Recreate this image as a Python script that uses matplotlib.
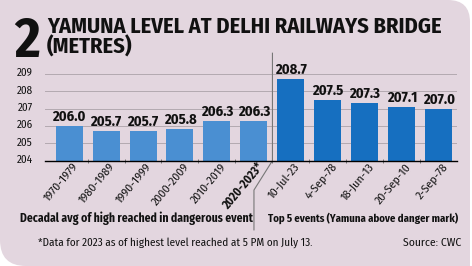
import matplotlib
matplotlib.use("Agg")
import matplotlib.pyplot as plt
import matplotlib.transforms as mtransforms
from matplotlib.path import Path
from matplotlib.patches import PathPatch
import numpy as np

# ---------------- data ----------------
decade_labels = ["1970-1979", "1980-1989", "1990-1999", "2000-2009", "2010-2019", "2020-2023*"]
decade_values = [206.0, 205.7, 205.7, 205.8, 206.3, 206.3]
event_labels = ["10-Jul-23", "4-Sep-78", "18-Jun-13", "20-Sep-10", "2-Sep-78"]
event_values = [208.7, 207.5, 207.3, 207.1, 207.0]
y_ticks = [204, 205, 206, 207, 208, 209]

title_num = "2"
title_line1 = "YAMUNA LEVEL AT DELHI RAILWAYS BRIDGE"
title_line2 = "(METRES)"
left_caption = "Decadal avg of high reached in dangerous event"
right_caption = "Top 5 events (Yamuna above danger mark)"
footnote = "*Data for 2023 as of highest level reached at 5 PM on July 13."
source = "Source: CWC"

# ---------------- style ----------------
BG = "#e3d6df"
C_LEFT = "#4a8fd2"
C_RIGHT = "#166fc0"
GRID = "#b3a9b0"
FONT = ["Fira Sans Condensed", "DejaVu Sans"]

W, H = 472, 266
fig = plt.figure(figsize=(W / 100, H / 100), dpi=100)
fig.patch.set_facecolor("white")
renderer = fig.canvas.get_renderer()


def fit(t, target_w):
    """scale the font size of text t so its rendered width is target_w px"""
    w = t.get_window_extent(renderer).width
    t.set_fontsize(t.get_fontsize() * target_w / w)


# background panel with rounded top-right and bottom-left corners
bg_ax = fig.add_axes([0, 0, 1, 1])
bg_ax.set_xlim(0, W)
bg_ax.set_ylim(H, 0)
bg_ax.axis("off")
r1, r2 = 22, 26
x1, y1 = 470, 266
verts = [(0, 0), (x1 - r1, 0), (x1, 0), (x1, r1), (x1, y1), (r2, y1), (0, y1), (0, y1 - r2), (0, 0)]
codes = [Path.MOVETO, Path.LINETO, Path.CURVE3, Path.CURVE3, Path.LINETO, Path.LINETO,
         Path.CURVE3, Path.CURVE3, Path.CLOSEPOLY]
bg_ax.add_patch(PathPatch(Path(verts, codes), facecolor=BG, edgecolor="none"))

# main axes
ax_left, ax_right = 45, 457
ax_top, ax_bot = 74, 160.6
ax = fig.add_axes([ax_left / W, 1 - ax_bot / H, (ax_right - ax_left) / W, (ax_bot - ax_top) / H])
ax.set_facecolor("none")

labels = decade_labels + event_labels
values = decade_values + event_values
x = np.arange(len(labels))
colors = [C_LEFT] * len(decade_labels) + [C_RIGHT] * len(event_labels)
ax.bar(x, [v - y_ticks[0] for v in values], bottom=y_ticks[0], width=0.73,
       color=colors, zorder=3)

ax.set_ylim(y_ticks[0], y_ticks[-1])
ax.set_xlim(-0.65, len(labels) - 0.51)
ax.set_yticks(y_ticks)
ax.set_yticklabels([str(t) for t in y_ticks], family=FONT, fontsize=8, color="#111111")
ax.yaxis.grid(True, color=GRID, lw=0.7, zorder=0)
ax.tick_params(axis="y", length=0, pad=9)
for lab in ax.get_yticklabels():
    lab.set_transform(lab.get_transform() +
                      mtransforms.ScaledTranslation(0, 2 / 100, fig.dpi_scale_trans))
for s in ["top", "right", "left"]:
    ax.spines[s].set_visible(False)
ax.spines["bottom"].set_color("black")
ax.spines["bottom"].set_linewidth(1.0)
ax.spines["bottom"].set_zorder(4)

ax.set_xticks(x)
ax.set_xticks(x[:-1] + 0.5, minor=True)
ax.tick_params(axis="x", which="major", length=0, pad=3)
ax.tick_params(axis="x", which="minor", length=2.5, width=0.6, color="#666666", direction="inout")
offset = mtransforms.ScaledTranslation(7 / 100, 0, fig.dpi_scale_trans)
ax.set_xticklabels(labels, rotation=50, ha="right", va="center", rotation_mode="anchor",
                   family=FONT, fontsize=8.5, color="#111111")
for i, lab in enumerate(ax.get_xticklabels()):
    lab.set_transform(lab.get_transform() + offset)
    if labels[i].endswith("*"):
        lab.set_fontweight("bold")

# value labels
for xi, v in zip(x, values):
    ax.annotate(f"{v:.1f}", (xi, v), xytext=(0, 1.5), textcoords="offset points",
                ha="center", va="bottom", family=FONT, fontweight="bold",
                fontsize=10.5, color="#111111", zorder=5)

# separator line between groups
sep_x = len(decade_labels) - 0.5
ax.plot([sep_x, sep_x, sep_x - 0.5, sep_x - 0.5], [210.2, 204, 202.3, 200.0],
        color="#777777", lw=0.8, clip_on=False, zorder=2)

# titles
fig.text(14 / W, 1 - 57 / H, title_num, fontsize=40, fontweight="bold", family=FONT,
         ha="left", va="baseline", color="#111111")
t1 = fig.text(47 / W, 1 - 33 / H, title_line1, fontsize=17, fontweight="bold", family=FONT,
              ha="left", va="baseline", color="#111111")
fit(t1, 393)
fig.text(47 / W, 1 - 54 / H, title_line2, fontsize=t1.get_fontsize(), fontweight="bold",
         family=FONT, ha="left", va="baseline", color="#111111")

# captions
c1 = fig.text(20 / W, 1 - 218 / H, left_caption, fontsize=8.5, fontweight="bold", family=FONT,
              ha="left", va="center", color="#111111")
fit(c1, 235)
c2 = fig.text(268 / W, 1 - 218 / H, right_caption, fontsize=8.5, fontweight="bold", family=FONT,
              ha="left", va="center", color="#111111")
fit(c2, 192)
f1 = fig.text(38 / W, 1 - 243 / H, footnote, fontsize=8, family=FONT,
              ha="left", va="center", color="#111111")
fit(f1, 275)
s1 = fig.text(461 / W, 1 - 243 / H, source, fontsize=8, family=FONT,
              ha="right", va="center", color="#111111")
fit(s1, 58)

fig.savefig("out.png", dpi=100, facecolor=fig.get_facecolor())
